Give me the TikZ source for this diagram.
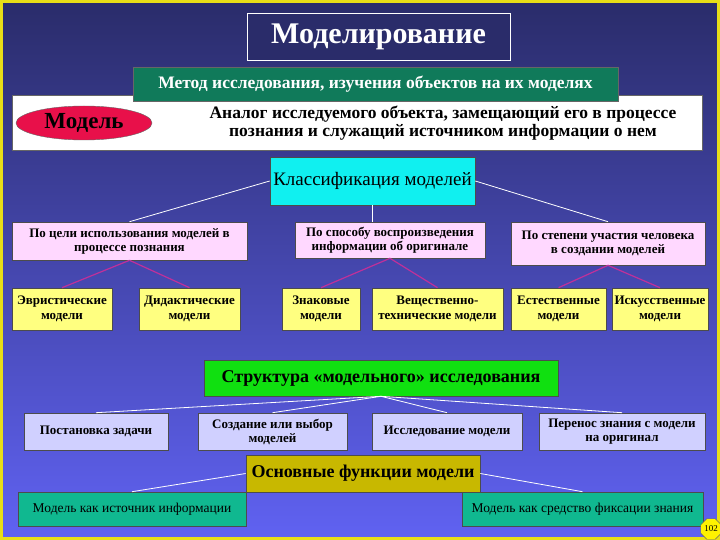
\documentclass[tikz,border=0pt]{standalone}
\usepackage{fontspec}
\setmainfont{Liberation Serif}
\usetikzlibrary{shapes.geometric}
\definecolor{bgtop}{HTML}{2A2C6A}
\definecolor{bgbot}{HTML}{6062F2}
\definecolor{teal1}{HTML}{107A5A}
\definecolor{cyanb}{HTML}{10F0F0}
\definecolor{pinkb}{HTML}{FFD8FF}
\definecolor{yelb}{HTML}{FFFF80}
\definecolor{greenb}{HTML}{10E010}
\definecolor{lavb}{HTML}{D0D0FF}
\definecolor{oliveb}{HTML}{C8B800}
\definecolor{tealb}{HTML}{10B890}
\definecolor{magl}{HTML}{C0309A}
\definecolor{redb}{HTML}{E8104A}
\begin{document}
\begin{tikzpicture}[x=1pt,y=-1pt,
 box/.style={draw=black!70,line width=0.6pt,inner sep=0pt,align=center,font=\fontsize{13}{14}\selectfont\bfseries},
 wl/.style={white,line width=0.8pt},
 ml/.style={magl,line width=1.2pt}]
\shade[top color=bgtop,bottom color=bgbot] (0,0) rectangle (720,540);
\draw[yellow!90!black,line width=3pt] (1.5,1.5) rectangle (718.5,538.5);
\useasboundingbox (0,0) rectangle (720,540);
% title
\node[draw=white,line width=0.8pt,fill=bgtop,minimum width=263,minimum height=47,text=white,font=\fontsize{30}{32}\selectfont\bfseries] (title) at (378.5,36.5) {Моделирование};
% white band
\node[fill=white,draw=black!60,minimum width=690,minimum height=55,inner sep=0] (band) at (357,122.5) {};
\node[fill=teal1,draw=black!60,minimum width=485,minimum height=34,text=white,font=\fontsize{17.5}{19}\selectfont\bfseries] (metod) at (375.5,84) {Метод исследования, изучения объектов на их моделях};
\node[ellipse,fill=redb,draw=black!60,minimum width=136,minimum height=34,inner sep=0,font=\fontsize{23}{24}\selectfont\bfseries] (model) at (84,123) {Модель};
\node[align=center,font=\fontsize{17.5}{18}\selectfont\bfseries] (def) at (443,123) {Аналог исследуемого объекта, замещающий его в процессе\\познания и служащий источником информации о нем};
% classification
\node[box,fill=cyanb,minimum width=205,minimum height=48,font=\fontsize{19}{20}\selectfont] (cls) at (372.5,181) {Классификация моделей};
\node[box,fill=pinkb,minimum width=235,minimum height=38] (p1) at (129.5,241) {По цели использования моделей в\\процессе познания};
\node[box,fill=pinkb,minimum width=190,minimum height=36] (p2) at (390,240) {По способу воспроизведения\\информации об оригинале};
\node[box,fill=pinkb,minimum width=194,minimum height=43] (p3) at (608,243.5) {По степени участия человека\\в создании моделей};
\draw[wl] (cls.west) -- (p1.north);
\draw[wl] (cls.south) -- (cls.south |- p2.north);
\draw[wl] (cls.east) -- (p3.north);
% yellow
\foreach \n/\a/\b/\t in {y1/12/112/{Эвристические\\модели},y2/139/240/{Дидактические\\модели},y3/282/360/{Знаковые\\модели},y4/372/503/{Вещественно-\\технические модели},y5/511/606/{Естественные\\модели},y6/612/708/{Искусственные\\модели}}{
 \node[box,fill=yelb,minimum width={\b-\a},minimum height=42,font=\fontsize{13}{15}\selectfont\bfseries] (\n) at ({(\a+\b)/2},309) {\t};}
\draw[ml] (p1.south) -- (y1.north); \draw[ml] (p1.south) -- (y2.north);
\draw[ml] (p2.south) -- (y3.north); \draw[ml] (p2.south) -- (y4.north);
\draw[ml] (p3.south) -- (y5.north); \draw[ml] (p3.south) -- (y6.north);
% structure
\node[box,fill=greenb,minimum width=354,minimum height=36,font=\fontsize{18}{19}\selectfont\bfseries] (str) at (381,378) {Структура «модельного» исследования};
\foreach \n/\a/\b/\t in {s1/24/168/{Постановка задачи},s2/198/347/{Создание или выбор\\моделей},s3/372/522/{Исследование модели},s4/539/705/{Перенос знания с модели\\на оригинал}}{
 \node[box,fill=lavb,minimum width={\b-\a},minimum height=37] (\n) at ({(\a+\b)/2},431.5) {\t};
 \draw[wl] (str.south) -- (\n.north);}
% functions
\node[box,fill=oliveb,minimum width=234,minimum height=37,font=\fontsize{18}{19}\selectfont\bfseries] (fun) at (363,473.5) {Основные функции модели};
\node[box,fill=tealb,minimum width=228,minimum height=34,font=\fontsize{13.5}{14}\selectfont] (f1) at (132,509) {Модель как источник информации};
\node[box,fill=tealb,minimum width=241,minimum height=34,font=\fontsize{13.5}{14}\selectfont] (f2) at (582.5,509) {Модель как средство фиксации знания};
\draw[wl] (fun.west) -- (f1.north);
\draw[wl] (fun.east) -- (f2.north);
\node[regular polygon,regular polygon sides=8,fill=yellow,draw=black!60,inner sep=0.5pt,minimum size=18,font=\fontsize{9}{9}\selectfont] (pg) at (711,529) {102};
\end{tikzpicture}
\end{document}
